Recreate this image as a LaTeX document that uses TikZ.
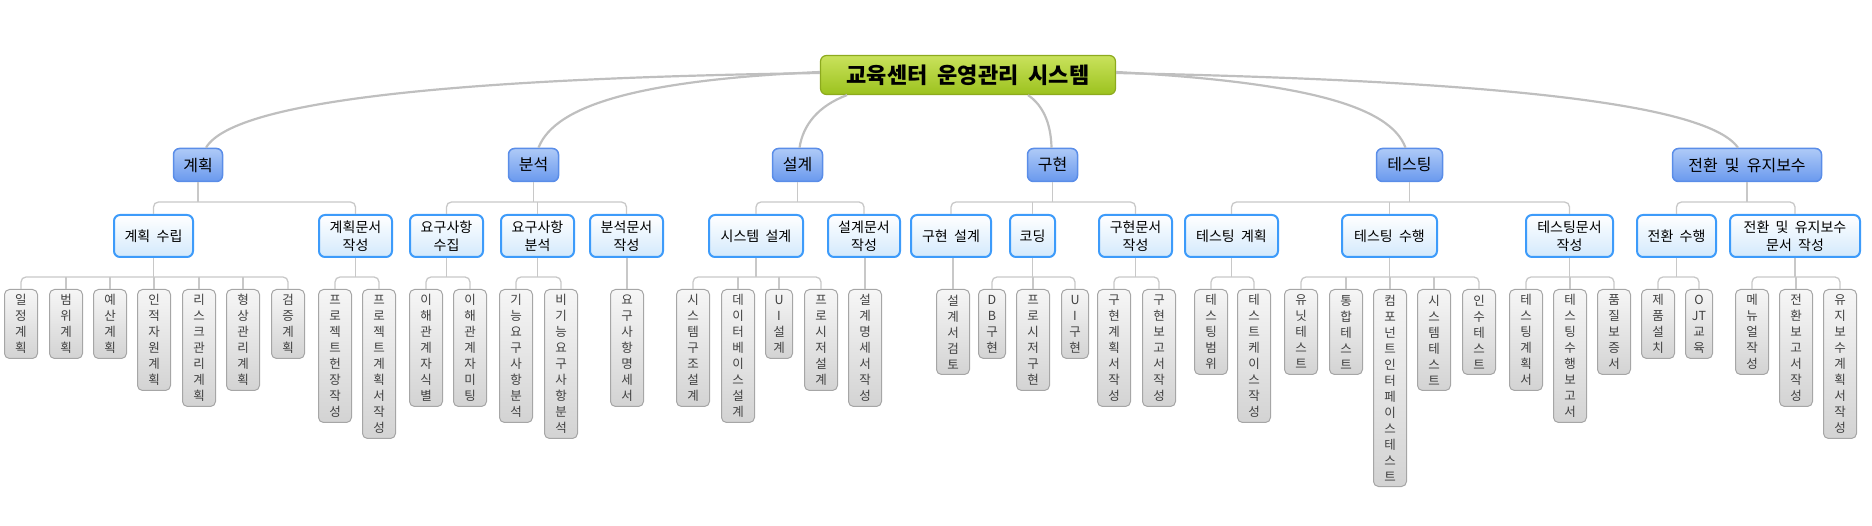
\documentclass[tikz,border=0pt]{standalone}
\usepackage{fontspec}
\newfontfamily\kr{Noto Sans CJK KR}[WordSpace=2]
\usetikzlibrary{shapes.misc}
\definecolor{rootTop}{HTML}{C9E25C}
\definecolor{rootBot}{HTML}{9CC21E}
\definecolor{rootLine}{HTML}{8DAA1E}
\definecolor{l1Top}{HTML}{AECAF7}
\definecolor{l1Bot}{HTML}{6A99EE}
\definecolor{l1Line}{HTML}{5A8DE8}
\definecolor{l2Bot}{HTML}{D3E9FC}
\definecolor{l2Line}{HTML}{3D9BFA}
\definecolor{lfTop}{HTML}{F6F6F6}
\definecolor{lfBot}{HTML}{D3D3D3}
\definecolor{lfLine}{HTML}{A6A6A6}
\definecolor{lfText}{HTML}{404040}
\definecolor{curveC}{HTML}{BFBFBF}
\definecolor{treeC}{HTML}{C8C8C8}
\tikzset{
  rootbox/.style={draw=rootLine, line width=1.2pt, rounded corners=6pt, top color=rootTop, bottom color=rootBot,
    minimum width=295pt, minimum height=39pt, inner sep=0pt, font=\kr\bfseries\fontsize{22}{24}\selectfont},
  topbox/.style={draw=l1Line, line width=1.5pt, rounded corners=6pt, top color=l1Top, bottom color=l1Bot,
    minimum height=33pt, inner sep=0pt, font=\kr\fontsize{16}{18}\selectfont},
  midbox/.style={draw=l2Line, line width=2pt, rounded corners=6pt, top color=white, bottom color=l2Bot,
    minimum height=42pt, inner sep=0pt, align=center, font=\kr\fontsize{14}{18}\selectfont},
  leafbox/.style={draw=lfLine, line width=1pt, rounded corners=5pt, top color=lfTop, bottom color=lfBot,
    anchor=north, minimum width=33pt, minimum height={(16*#1+5)*1pt}, inner sep=0pt, align=center,
    text=lfText, font=\kr\fontsize{12.5}{16}\selectfont},
  narrow/.style={minimum width=27pt},
  curve/.style={draw=curveC, line width=2.2pt},
  tree/.style={draw=treeC, line width=1.3pt, rounded corners=5pt},
}
\begin{document}
\begin{tikzpicture}[x=1pt,y=-1pt]
\useasboundingbox (0,0) rectangle (1872,526);
% root
\node[rootbox] (root) at (968,75) {교육센터 운영관리 시스템};
% level 1
\node[topbox, minimum width=49pt] (p1) at (198,165) {계획};
\node[topbox, minimum width=50pt] (p2) at (533.5,165) {분석};
\node[topbox, minimum width=50pt] (p3) at (797.5,165) {설계};
\node[topbox, minimum width=50pt] (p4) at (1052.5,165) {구현};
\node[topbox, minimum width=66pt] (p5) at (1409.5,165) {테스팅};
\node[topbox, minimum width=149pt] (p6) at (1747,165) {전환 및 유지보수};
% curves
\draw[curve] ([yshift=2pt]root.west) .. controls (480,78) and (235,98) .. ([xshift=8pt]p1.north);
\draw[curve] ([yshift=3pt]root.west) .. controls (640,80) and (555,105) .. ([xshift=5pt]p2.north);
\draw[curve] ([xshift=-121pt]root.south) .. controls (818,106) and (803,125) .. ([xshift=2pt]p3.north);
\draw[curve] ([xshift=60pt]root.south) .. controls (1044,106) and (1051,125) .. ([xshift=-1pt]p4.north);
\draw[curve] ([yshift=3pt]root.east) .. controls (1300,82) and (1390,105) .. ([xshift=-4pt]p5.north);
\draw[curve] ([yshift=2pt]root.east) .. controls (1460,80) and (1705,100) .. ([xshift=-9pt]p6.north);
% level 2
\node[midbox, minimum width=79pt] (m1) at (153.5,236) {계획 수립};
\node[midbox, minimum width=73pt] (m2) at (355.5,236) {계획문서\\작성};
\node[midbox, minimum width=73pt] (m3) at (446.5,236) {요구사항\\수집};
\node[midbox, minimum width=73pt] (m4) at (537.5,236) {요구사항\\분석};
\node[midbox, minimum width=73pt] (m5) at (626.5,236) {분석문서\\작성};
\node[midbox, minimum width=94pt] (m6) at (756,236) {시스템 설계};
\node[midbox, minimum width=72pt] (m7) at (864,236) {설계문서\\작성};
\node[midbox, minimum width=80pt] (m8) at (951,236) {구현 설계};
\node[midbox, minimum width=45pt] (m9) at (1032.5,236) {코딩};
\node[midbox, minimum width=73pt] (m10) at (1135.5,236) {구현문서\\작성};
\node[midbox, minimum width=93pt] (m11) at (1231.5,236) {테스팅 계획};
\node[midbox, minimum width=95pt] (m12) at (1389.5,236) {테스팅 수행};
\node[midbox, minimum width=87pt] (m13) at (1569.5,236) {테스팅문서\\작성};
\node[midbox, minimum width=79pt] (m14) at (1676.5,236) {전환 수행};
\node[midbox, minimum width=130pt] (m15) at (1795,236) {전환 및 유지보수\\문서 작성};
% bars
\coordinate (barA) at (0,202);
\coordinate (barB) at (0,277);
% level1 -> level2 trees
\draw[tree] (m1.north) -- (m1.north |- barA) -- (m2.north |- barA) -- (m2.north);
\draw[tree] (p1.south) -- (p1.south |- barA);
\draw[tree] (m3.north) -- (m3.north |- barA) -- (m5.north |- barA) -- (m5.north);
\draw[tree] (p2.south) -- (p2.south |- barA);
\draw[tree] (m4.north) -- (m4.north |- barA);
\draw[tree] (m6.north) -- (m6.north |- barA) -- (m7.north |- barA) -- (m7.north);
\draw[tree] (p3.south) -- (p3.south |- barA);
\draw[tree] (m8.north) -- (m8.north |- barA) -- (m10.north |- barA) -- (m10.north);
\draw[tree] (p4.south) -- (p4.south |- barA);
\draw[tree] (m9.north) -- (m9.north |- barA);
\draw[tree] (m11.north) -- (m11.north |- barA) -- (m13.north |- barA) -- (m13.north);
\draw[tree] (p5.south) -- (p5.south |- barA);
\draw[tree] (m12.north) -- (m12.north |- barA);
\draw[tree] (m14.north) -- (m14.north |- barA) -- (m15.north |- barA) -- (m15.north);
\draw[tree] (p6.south) -- (p6.south |- barA);
% leaves
\begin{scope}[every node/.append style={}]
\node[leafbox=4] (l1) at (21,289) {일\\정\\계\\획};
\node[leafbox=4] (l2) at (66,289) {범\\위\\계\\획};
\node[leafbox=4] (l3) at (110,289) {예\\산\\계\\획};
\node[leafbox=6] (l4) at (154,289) {인\\적\\자\\원\\계\\획};
\node[leafbox=7] (l5) at (199,289) {리\\스\\크\\관\\리\\계\\획};
\node[leafbox=6] (l6) at (243,289) {형\\상\\관\\리\\계\\획};
\node[leafbox=4] (l7) at (288,289) {검\\증\\계\\획};
\node[leafbox=8] (l8) at (335,289) {프\\로\\젝\\트\\헌\\장\\작\\성};
\node[leafbox=9] (l9) at (379,289) {프\\로\\젝\\트\\계\\획\\서\\작\\성};
\node[leafbox=7] (l10) at (426,289) {이\\해\\관\\계\\자\\식\\별};
\node[leafbox=7] (l11) at (470,289) {이\\해\\관\\계\\자\\미\\팅};
\node[leafbox=8] (l12) at (516,289) {기\\능\\요\\구\\사\\항\\분\\석};
\node[leafbox=9] (l13) at (561,289) {비\\기\\능\\요\\구\\사\\항\\분\\석};
\node[leafbox=7] (l14) at (627,289) {요\\구\\사\\항\\명\\세\\서};
\node[leafbox=7] (l15) at (693,289) {시\\스\\템\\구\\조\\설\\계};
\node[leafbox=8] (l16) at (738,289) {데\\이\\터\\베\\이\\스\\설\\계};
\node[leafbox=4, narrow] (l17) at (779,289) {U\\I\\설\\계};
\node[leafbox=6] (l18) at (821,289) {프\\로\\시\\저\\설\\계};
\node[leafbox=7] (l19) at (865,289) {설\\계\\명\\세\\서\\작\\성};
\node[leafbox=5] (l20) at (953,289) {설\\계\\서\\검\\토};
\node[leafbox=4, narrow] (l21) at (992,289) {D\\B\\구\\현};
\node[leafbox=6] (l22) at (1033,289) {프\\로\\시\\저\\구\\현};
\node[leafbox=4, narrow] (l23) at (1075,289) {U\\I\\구\\현};
\node[leafbox=7] (l24) at (1114,289) {구\\현\\계\\획\\서\\작\\성};
\node[leafbox=7] (l25) at (1159,289) {구\\현\\보\\고\\서\\작\\성};
\node[leafbox=5] (l26) at (1211,289) {테\\스\\팅\\범\\위};
\node[leafbox=8] (l27) at (1254,289) {테\\스\\트\\케\\이\\스\\작\\성};
\node[leafbox=5] (l28) at (1301,289) {유\\닛\\테\\스\\트};
\node[leafbox=5] (l29) at (1346,289) {통\\합\\테\\스\\트};
\node[leafbox=12] (l30) at (1390,289) {컴\\포\\넌\\트\\인\\터\\페\\이\\스\\테\\스\\트};
\node[leafbox=6] (l31) at (1434,289) {시\\스\\템\\테\\스\\트};
\node[leafbox=5] (l32) at (1479,289) {인\\수\\테\\스\\트};
\node[leafbox=6] (l33) at (1526,289) {테\\스\\팅\\계\\획\\서};
\node[leafbox=8] (l34) at (1570,289) {테\\스\\팅\\수\\행\\보\\고\\서};
\node[leafbox=5] (l35) at (1614,289) {품\\질\\보\\증\\서};
\node[leafbox=4] (l36) at (1658,289) {제\\품\\설\\치};
\node[leafbox=4, narrow] (l37) at (1699,289) {O\\JT\\교\\육};
\node[leafbox=5] (l38) at (1752,289) {메\\뉴\\얼\\작\\성};
\node[leafbox=7] (l39) at (1796,289) {전\\환\\보\\고\\서\\작\\성};
\node[leafbox=9] (l40) at (1840,289) {유\\지\\보\\수\\계\\획\\서\\작\\성};
\end{scope}
% level2 -> leaves trees
\draw[tree] (l1.north) -- (l1.north |- barB) -- (l7.north |- barB) -- (l7.north);
\draw[tree] (m1.south) -- (m1.south |- barB);
\foreach \c in {l2,l3,l4,l5,l6} \draw[tree] (\c.north) -- (\c.north |- barB);
\draw[tree] (l8.north) -- (l8.north |- barB) -- (l9.north |- barB) -- (l9.north);
\draw[tree] (m2.south) -- (m2.south |- barB);
\draw[tree] (l10.north) -- (l10.north |- barB) -- (l11.north |- barB) -- (l11.north);
\draw[tree] (m3.south) -- (m3.south |- barB);
\draw[tree] (l12.north) -- (l12.north |- barB) -- (l13.north |- barB) -- (l13.north);
\draw[tree] (m4.south) -- (m4.south |- barB);
\draw[tree] (l14.north) -- (l14.north |- m5.south);
\draw[tree] (l15.north) -- (l15.north |- barB) -- (l18.north |- barB) -- (l18.north);
\draw[tree] (m6.south) -- (m6.south |- barB);
\foreach \c in {l16,l17} \draw[tree] (\c.north) -- (\c.north |- barB);
\draw[tree] (l19.north) -- (l19.north |- m7.south);
\draw[tree] (l20.north) -- (l20.north |- m8.south);
\draw[tree] (l21.north) -- (l21.north |- barB) -- (l23.north |- barB) -- (l23.north);
\draw[tree] (m9.south) -- (m9.south |- barB);
\draw[tree] (l22.north) -- (l22.north |- barB);
\draw[tree] (l24.north) -- (l24.north |- barB) -- (l25.north |- barB) -- (l25.north);
\draw[tree] (m10.south) -- (m10.south |- barB);
\draw[tree] (l26.north) -- (l26.north |- barB) -- (l27.north |- barB) -- (l27.north);
\draw[tree] (m11.south) -- (m11.south |- barB);
\draw[tree] (l28.north) -- (l28.north |- barB) -- (l32.north |- barB) -- (l32.north);
\draw[tree] (m12.south) -- (m12.south |- barB);
\foreach \c in {l29,l30,l31} \draw[tree] (\c.north) -- (\c.north |- barB);
\draw[tree] (l33.north) -- (l33.north |- barB) -- (l35.north |- barB) -- (l35.north);
\draw[tree] (m13.south) -- (m13.south |- barB);
\draw[tree] (l34.north) -- (l34.north |- barB);
\draw[tree] (l36.north) -- (l36.north |- barB) -- (l37.north |- barB) -- (l37.north);
\draw[tree] (m14.south) -- (m14.south |- barB);
\draw[tree] (l38.north) -- (l38.north |- barB) -- (l40.north |- barB) -- (l40.north);
\draw[tree] (m15.south) -- (m15.south |- barB);
\draw[tree] (l39.north) -- (l39.north |- barB);
\end{tikzpicture}
\end{document}
